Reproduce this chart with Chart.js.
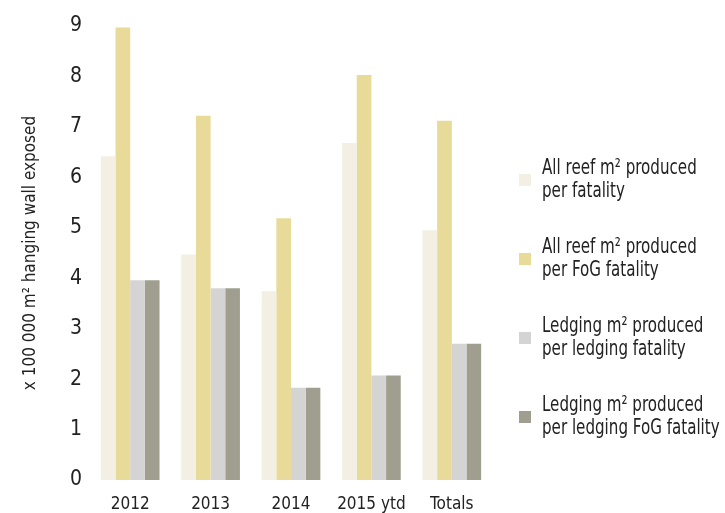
<!DOCTYPE html>
<html>
<head>
<meta charset="utf-8">
<script src="https://cdn.jsdelivr.net/npm/chart.js@4.4.1/dist/chart.umd.min.js"></script>
<style>
  html, body { margin: 0; padding: 0; background: #fff; }
  #wrap { width: 725px; height: 513px; position: relative; }
</style>
</head>
<body>
<div id="wrap"><canvas id="myBarChart"></canvas></div>
<script>
// Dados
const categories = ['2012', '2013', '2014', '2015 ytd', 'Totals'];
const allReef = [6.42, 4.47, 3.74, 6.68, 4.95];
const allReefFoG = [8.97, 7.22, 5.19, 8.03, 7.12];
const ledging = [3.96, 3.80, 1.83, 2.07, 2.70];
const ledgingFoG = [3.96, 3.80, 1.83, 2.07, 2.70];
const yTicks = [0, 1, 2, 3, 4, 5, 6, 7, 8, 9];

const seriesLabels = [
  ['All reef m\u00b2 produced', 'per fatality'],
  ['All reef m\u00b2 produced', 'per FoG fatality'],
  ['Ledging m\u00b2 produced', 'per ledging fatality'],
  ['Ledging m\u00b2 produced', 'per ledging FoG fatality']
];
const colors = ['#f3efe3', '#e8da98', '#d4d4d4', '#a09f8f'];

const FONT = "'DejaVu Sans Condensed', 'Liberation Sans Narrow', 'Roboto', sans-serif";
const TEXT = '#222222';

// Legenda desenhada à mão (duas linhas por item, texto estreitado)
const sideLegend = {
  id: 'sideLegend',
  afterDraw(chart) {
    const c = chart.ctx;
    const sx = 0.8;
    c.save();
    c.textBaseline = 'middle';
    const centers = [180, 259, 338, 417];
    seriesLabels.forEach((lines, i) => {
      const cy = centers[i];
      c.fillStyle = colors[i];
      c.fillRect(519, cy - 6, 12, 12);
      c.save();
      c.translate(542, 0);
      c.scale(sx, 1);
      c.font = '21px ' + FONT;
      c.fillStyle = TEXT;
      c.fillText(lines[0], 0, cy - 11);
      c.fillText(lines[1], 0, cy + 12);
      c.restore();
    });
    c.restore();
  }
};

const data = {
  labels: categories,
  datasets: [allReef, allReefFoG, ledging, ledgingFoG].map((vals, i) => ({
    label: seriesLabels[i].join(' '),
    data: vals,
    backgroundColor: colors[i],
    borderWidth: 0,
    barPercentage: 1,
    categoryPercentage: 0.73
  }))
};

const config = {
  type: 'bar',
  data: data,
  options: {
    responsive: true,
    maintainAspectRatio: false,
    animation: false,
    layout: { padding: { top: 26, right: 233, left: 0, bottom: 0 } },
    plugins: {
      legend: { display: false },
      tooltip: { enabled: false }
    },
    scales: {
      x: {
        grid: { display: false, drawTicks: false },
        border: { display: false },
        ticks: { color: TEXT, font: { family: FONT, size: 17 }, padding: 14, maxRotation: 0 },
        afterFit(s) { s.height = 33; }
      },
      y: {
        min: 0,
        max: 9,
        grid: { display: false, drawTicks: false },
        border: { display: false },
        afterBuildTicks(s) { s.ticks = yTicks.map(v => ({ value: v })); },
        ticks: { color: TEXT, font: { family: FONT, size: 21 }, padding: 8 },
        title: {
          display: true,
          text: 'x 100 000 m\u00b2 hanging wall exposed',
          color: TEXT,
          font: { family: FONT, size: 17 },
          padding: { top: 20, bottom: 10 }
        },
        afterFit(s) { s.width = 90; }
      }
    }
  },
  plugins: [sideLegend]
};

new Chart(document.getElementById('myBarChart').getContext('2d'), config);
</script>
</body>
</html>
